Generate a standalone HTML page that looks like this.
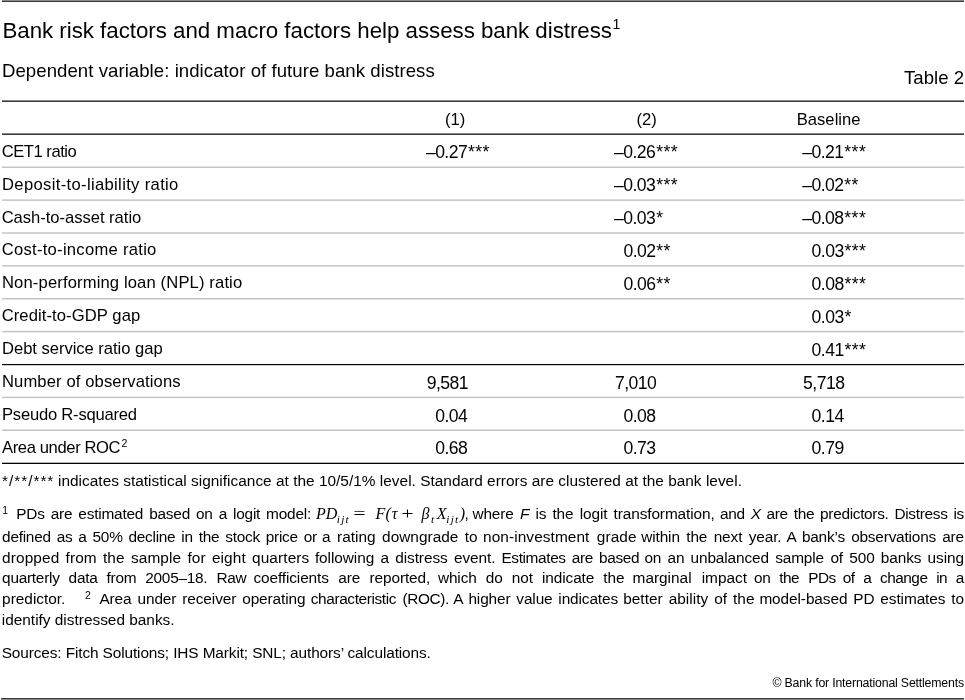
<!DOCTYPE html>
<html>
<head>
<meta charset="utf-8">
<title>Table 2</title>
<style>
html,body{margin:0;padding:0;background:#fff;}
body{filter:grayscale(1);width:965px;height:700px;position:relative;overflow:hidden;font-family:"Liberation Sans",sans-serif;color:#000;}
.t{position:absolute;white-space:nowrap;line-height:24px;}
.ln{position:absolute;height:1px;}
</style>
</head>
<body>
<svg width="965" height="700" viewBox="0 0 965 700" style="position:absolute;left:0;top:0"><rect x="2" y="0.40" width="962" height="1.60" fill="#3a3a3a"/><rect x="2" y="100.40" width="962" height="1.60" fill="#3a3a3a"/><rect x="2" y="133.40" width="962" height="1.60" fill="#3a3a3a"/><rect x="2" y="166.52" width="962" height="1.50" fill="#c4c4c4"/><rect x="2" y="199.39" width="962" height="1.50" fill="#c4c4c4"/><rect x="2" y="232.26" width="962" height="1.50" fill="#c4c4c4"/><rect x="2" y="265.13" width="962" height="1.50" fill="#c4c4c4"/><rect x="2" y="298.00" width="962" height="1.50" fill="#c4c4c4"/><rect x="2" y="330.87" width="962" height="1.50" fill="#c4c4c4"/><rect x="2" y="396.61" width="962" height="1.50" fill="#c4c4c4"/><rect x="2" y="429.48" width="962" height="1.50" fill="#c4c4c4"/><rect x="2" y="364.00" width="962" height="1.18" fill="#000"/><rect x="2" y="462.72" width="962" height="1.28" fill="#000"/><rect x="1" y="698.00" width="963" height="1.60" fill="#3a3a3a"/></svg>
<div id="title" class="t" style="left:2.46px;top:19.17px;font-size:22.3px;letter-spacing:-0.023px;">Bank risk factors and macro factors help assess bank distress<sup style="font-size:14.2px;position:relative;top:-9.6px;vertical-align:baseline;line-height:0;letter-spacing:0;margin-left:0.6px">1</sup></div>
<div id="sub" class="t" style="left:1.98px;top:59.36px;font-size:18.6px;letter-spacing:0.054px;">Dependent variable: indicator of future bank distress</div>
<div id="tnum" class="t" style="left:903.98px;top:65.56px;font-size:18.6px;letter-spacing:0.033px;">Table 2</div>
<div id="h1" class="t" style="left:445.0px;top:107.85px;font-size:16.6px;letter-spacing:0px;">(1)</div>
<div id="h2" class="t" style="left:636.6px;top:107.85px;font-size:16.6px;letter-spacing:0px;">(2)</div>
<div id="h3" class="t" style="left:796.68px;top:107.85px;font-size:16.6px;letter-spacing:0.033px;">Baseline</div>
<div id="l0" class="t" style="left:1.68px;top:139.80px;font-size:16.6px;letter-spacing:-0.473px;">CET1 ratio</div>
<div id="v0_0" class="t" style="left:425.9px;top:140.35px;font-size:17.6px;letter-spacing:-0.55px;">–0.27<span style="letter-spacing:0.45px;margin-left:0.8500000000000001px">***</span></div>
<div id="v0_1" class="t" style="left:614.0px;top:140.35px;font-size:17.6px;letter-spacing:-0.55px;">–0.26<span style="letter-spacing:0.45px;margin-left:0.8500000000000001px">***</span></div>
<div id="v0_2" class="t" style="left:802.2px;top:140.35px;font-size:17.6px;letter-spacing:-0.55px;">–0.21<span style="letter-spacing:0.45px;margin-left:0.8500000000000001px">***</span></div>
<div id="l1" class="t" style="left:2.0px;top:172.67px;font-size:16.6px;letter-spacing:0.34px;">Deposit-to-liability ratio</div>
<div id="v1_1" class="t" style="left:614.0px;top:173.25px;font-size:17.6px;letter-spacing:-0.55px;">–0.03<span style="letter-spacing:0.45px;margin-left:0.8500000000000001px">***</span></div>
<div id="v1_2" class="t" style="left:802.2px;top:173.25px;font-size:17.6px;letter-spacing:-0.55px;">–0.02<span style="letter-spacing:0.45px;margin-left:0.8500000000000001px">**</span></div>
<div id="l2" class="t" style="left:1.68px;top:205.54px;font-size:16.6px;letter-spacing:-0.032px;">Cash-to-asset ratio</div>
<div id="v2_1" class="t" style="left:614.0px;top:206.15px;font-size:17.6px;letter-spacing:-0.55px;">–0.03<span style="letter-spacing:0.45px;margin-left:0.8500000000000001px">*</span></div>
<div id="v2_2" class="t" style="left:802.2px;top:206.15px;font-size:17.6px;letter-spacing:-0.55px;">–0.08<span style="letter-spacing:0.45px;margin-left:0.8500000000000001px">***</span></div>
<div id="l3" class="t" style="left:1.68px;top:238.41px;font-size:16.6px;letter-spacing:0.277px;">Cost-to-income ratio</div>
<div id="v3_1" class="t" style="left:623.4px;top:239.05px;font-size:17.6px;letter-spacing:-0.55px;">0.02<span style="letter-spacing:0.45px;margin-left:0.8500000000000001px">**</span></div>
<div id="v3_2" class="t" style="left:811.6px;top:239.05px;font-size:17.6px;letter-spacing:-0.55px;">0.03<span style="letter-spacing:0.45px;margin-left:0.8500000000000001px">***</span></div>
<div id="l4" class="t" style="left:2.0px;top:271.28px;font-size:16.6px;letter-spacing:0.136px;">Non-performing loan (NPL) ratio</div>
<div id="v4_1" class="t" style="left:623.4px;top:271.95px;font-size:17.6px;letter-spacing:-0.55px;">0.06<span style="letter-spacing:0.45px;margin-left:0.8500000000000001px">**</span></div>
<div id="v4_2" class="t" style="left:811.6px;top:271.95px;font-size:17.6px;letter-spacing:-0.55px;">0.08<span style="letter-spacing:0.45px;margin-left:0.8500000000000001px">***</span></div>
<div id="l5" class="t" style="left:1.68px;top:304.15px;font-size:16.6px;letter-spacing:0.09px;">Credit-to-GDP gap</div>
<div id="v5_2" class="t" style="left:811.6px;top:304.85px;font-size:17.6px;letter-spacing:-0.55px;">0.03<span style="letter-spacing:0.45px;margin-left:0.8500000000000001px">*</span></div>
<div id="l6" class="t" style="left:2.0px;top:337.02px;font-size:16.6px;letter-spacing:-0.036px;">Debt service ratio gap</div>
<div id="v6_2" class="t" style="left:811.6px;top:337.75px;font-size:17.6px;letter-spacing:-0.55px;">0.41<span style="letter-spacing:0.45px;margin-left:0.8500000000000001px">***</span></div>
<div id="l7" class="t" style="left:2.0px;top:369.89px;font-size:16.6px;letter-spacing:0.112px;">Number of observations</div>
<div id="v7_0" class="t" style="left:426.8px;top:370.65px;font-size:17.6px;letter-spacing:-0.55px;">9,581</div>
<div id="v7_1" class="t" style="left:614.9px;top:370.65px;font-size:17.6px;letter-spacing:-0.55px;">7,010</div>
<div id="v7_2" class="t" style="left:803.1px;top:370.65px;font-size:17.6px;letter-spacing:-0.55px;">5,718</div>
<div id="l8" class="t" style="left:2.0px;top:402.76px;font-size:16.6px;letter-spacing:-0.219px;">Pseudo R-squared</div>
<div id="v8_0" class="t" style="left:435.3px;top:403.55px;font-size:17.6px;letter-spacing:-0.55px;">0.04</div>
<div id="v8_1" class="t" style="left:623.4px;top:403.55px;font-size:17.6px;letter-spacing:-0.55px;">0.08</div>
<div id="v8_2" class="t" style="left:811.6px;top:403.55px;font-size:17.6px;letter-spacing:-0.55px;">0.14</div>
<div id="l9" class="t" style="left:2.0px;top:435.63px;font-size:16.6px;letter-spacing:-0.383px;">Area under ROC<sup style="font-size:10.5px;position:relative;top:-5.8px;vertical-align:baseline;line-height:0;letter-spacing:0;margin-left:1.2px">2</sup></div>
<div id="v9_0" class="t" style="left:435.3px;top:436.45px;font-size:17.6px;letter-spacing:-0.55px;">0.68</div>
<div id="v9_1" class="t" style="left:623.4px;top:436.45px;font-size:17.6px;letter-spacing:-0.55px;">0.73</div>
<div id="v9_2" class="t" style="left:811.6px;top:436.45px;font-size:17.6px;letter-spacing:-0.55px;">0.79</div>
<div id="siga" class="t" style="left:1.98px;top:469.16px;font-size:15.4px;letter-spacing:0.984px;">*/**/***</div>
<div id="sigb" class="t" style="left:58.0px;top:469.16px;font-size:15.4px;letter-spacing:0.02px;">indicates statistical significance at the 10/5/1% level. Standard errors are clustered at the bank level.</div>
<div id="f0s" class="t" style="left:2.3px;top:502.26px;font-size:15.4px;letter-spacing:0px;"><sup style="font-size:10.4px;position:relative;top:-5.4px;vertical-align:baseline;line-height:0;letter-spacing:0;">1</sup></div>
<div id="f0a" class="t" style="left:16.3px;top:502.26px;font-size:15.4px;letter-spacing:-0.203px;width:294.8px;white-space:normal;text-align:justify;text-align-last:justify;">PDs are estimated based on a logit model:</div>
<div id="f0k" class="t" style="left:464.4px;top:502.26px;font-size:15.4px;letter-spacing:0px;">,</div>
<div id="f0c" class="t" style="left:472.4px;top:502.26px;font-size:15.4px;letter-spacing:-0.097px;width:242.3px;white-space:normal;text-align:justify;text-align-last:justify;">where <i>F</i> is the logit transformation,</div>
<div id="f0d" class="t" style="left:720.1px;top:502.26px;font-size:15.4px;letter-spacing:-0.308px;width:243.8px;white-space:normal;text-align:justify;text-align-last:justify;">and <i>X</i> are the predictors. Distress is</div>
<div id="f1a" class="t" style="left:2.1px;top:524.86px;font-size:15.4px;letter-spacing:-0.268px;width:314.8px;white-space:normal;text-align:justify;text-align-last:justify;">defined as a 50% decline in the stock price or</div>
<div id="f1b" class="t" style="left:322.0px;top:524.86px;font-size:15.4px;letter-spacing:0.01px;width:155.7px;white-space:normal;text-align:justify;text-align-last:justify;">a rating downgrade to</div>
<div id="f1c" class="t" style="left:483.1px;top:524.86px;font-size:15.4px;letter-spacing:0.081px;width:153.5px;white-space:normal;text-align:justify;text-align-last:justify;">non-investment grade</div>
<div id="f1d" class="t" style="left:641.2px;top:524.86px;font-size:15.4px;letter-spacing:-0.111px;width:140.3px;white-space:normal;text-align:justify;text-align-last:justify;">within the next year.</div>
<div id="f1e" class="t" style="left:786.4px;top:524.86px;font-size:15.4px;letter-spacing:-0.203px;width:177.5px;white-space:normal;text-align:justify;text-align-last:justify;">A bank’s observations are</div>
<div id="f2a" class="t" style="left:2.1px;top:545.56px;font-size:15.4px;letter-spacing:0.113px;width:307.3px;white-space:normal;text-align:justify;text-align-last:justify;">dropped from the sample for eight quarters</div>
<div id="f2b" class="t" style="left:314.9px;top:545.56px;font-size:15.4px;letter-spacing:-0.061px;width:180.6px;white-space:normal;text-align:justify;text-align-last:justify;">following a distress event.</div>
<div id="f2c" class="t" style="left:501.4px;top:545.56px;font-size:15.4px;letter-spacing:-0.363px;width:137.8px;white-space:normal;text-align:justify;text-align-last:justify;">Estimates are based</div>
<div id="f2d" class="t" style="left:644.4px;top:545.56px;font-size:15.4px;letter-spacing:-0.112px;width:179.7px;white-space:normal;text-align:justify;text-align-last:justify;">on an unbalanced sample</div>
<div id="f2e" class="t" style="left:830.4px;top:545.56px;font-size:15.4px;letter-spacing:-0.095px;width:133.5px;white-space:normal;text-align:justify;text-align-last:justify;">of 500 banks using</div>
<div id="f3a" class="t" style="left:2.1px;top:566.26px;font-size:15.4px;letter-spacing:-0.263px;width:244.3px;white-space:normal;text-align:justify;text-align-last:justify;">quarterly data from 2005–18. Raw</div>
<div id="f3b" class="t" style="left:253.5px;top:566.26px;font-size:15.4px;letter-spacing:-0.12px;width:176.6px;white-space:normal;text-align:justify;text-align-last:justify;">coefficients are reported,</div>
<div id="f3c" class="t" style="left:437.9px;top:566.26px;font-size:15.4px;letter-spacing:-0.117px;width:186.5px;white-space:normal;text-align:justify;text-align-last:justify;">which do not indicate the</div>
<div id="f3d" class="t" style="left:632.6px;top:566.26px;font-size:15.4px;letter-spacing:-0.009px;width:114.4px;white-space:normal;text-align:justify;text-align-last:justify;">marginal impact</div>
<div id="f3e" class="t" style="left:754.1px;top:566.26px;font-size:15.4px;letter-spacing:-0.506px;width:81.7px;white-space:normal;text-align:justify;text-align-last:justify;">on the PDs</div>
<div id="f3f" class="t" style="left:842.8px;top:566.26px;font-size:15.4px;letter-spacing:-0.527px;width:121.1px;white-space:normal;text-align:justify;text-align-last:justify;">of a change in a</div>
<div id="f4a" class="t" style="left:2.1px;top:586.96px;font-size:15.4px;letter-spacing:0px;">predictor.</div>
<div id="f4s" class="t" style="left:85.0px;top:586.96px;font-size:15.4px;letter-spacing:0px;"><sup style="font-size:10.4px;position:relative;top:-5.4px;vertical-align:baseline;line-height:0;letter-spacing:0;">2</sup></div>
<div id="f4b" class="t" style="left:99.4px;top:586.96px;font-size:15.4px;letter-spacing:-0.087px;width:206.2px;white-space:normal;text-align:justify;text-align-last:justify;">Area under receiver operating</div>
<div id="f4c" class="t" style="left:310.7px;top:586.96px;font-size:15.4px;letter-spacing:-0.375px;width:138.3px;white-space:normal;text-align:justify;text-align-last:justify;">characteristic (ROC).</div>
<div id="f4d" class="t" style="left:453.3px;top:586.96px;font-size:15.4px;letter-spacing:-0.124px;width:164.7px;white-space:normal;text-align:justify;text-align-last:justify;">A higher value indicates</div>
<div id="f4e" class="t" style="left:623.2px;top:586.96px;font-size:15.4px;letter-spacing:0.021px;width:131.3px;white-space:normal;text-align:justify;text-align-last:justify;">better ability of the</div>
<div id="f4f" class="t" style="left:759.4px;top:586.96px;font-size:15.4px;letter-spacing:-0.092px;width:204.5px;white-space:normal;text-align:justify;text-align-last:justify;">model-based PD estimates to</div>
<div id="f5" class="t" style="left:1.78px;top:607.96px;font-size:15.4px;letter-spacing:0px;">identify distressed banks.</div>
<div id="m0" class="t" style="left:316.0px;top:502.06px;font-size:16.0px;letter-spacing:0px;font-family:'Liberation Serif',serif;font-style:italic;">PD</div>
<div id="m1" class="t" style="left:336.8px;top:507.08px;font-size:11.3px;letter-spacing:1.2px;font-family:'Liberation Serif',serif;font-style:italic;">ijt</div>
<div id="m2" class="t" style="left:352.3px;top:502.06px;font-size:16.0px;letter-spacing:0px;font-family:'Liberation Serif',serif;font-style:italic;transform:scaleX(1.35);transform-origin:0 50%;">=</div>
<div id="m3" class="t" style="left:375.5px;top:502.06px;font-size:16.0px;letter-spacing:0px;font-family:'Liberation Serif',serif;font-style:italic;">F</div>
<div id="m4" class="t" style="left:385.6px;top:502.06px;font-size:16.0px;letter-spacing:0px;font-family:'Liberation Serif',serif;font-style:italic;">(</div>
<div id="m5" class="t" style="left:391.7px;top:502.06px;font-size:16.0px;letter-spacing:0px;font-family:'Liberation Serif',serif;font-style:italic;">τ</div>
<div id="m6" class="t" style="left:399.8px;top:502.06px;font-size:16.0px;letter-spacing:0px;font-family:'Liberation Serif',serif;font-style:italic;transform:scaleX(1.35);transform-origin:0 50%;">+</div>
<div id="m7" class="t" style="left:421.6px;top:502.06px;font-size:16.0px;letter-spacing:0px;font-family:'Liberation Serif',serif;font-style:italic;">β</div>
<div id="m8" class="t" style="left:431.0px;top:507.08px;font-size:11.3px;letter-spacing:1.2px;font-family:'Liberation Serif',serif;font-style:italic;">t</div>
<div id="m9" class="t" style="left:436.8px;top:502.06px;font-size:16.0px;letter-spacing:0px;font-family:'Liberation Serif',serif;font-style:italic;">X</div>
<div id="m10" class="t" style="left:446.3px;top:507.08px;font-size:11.3px;letter-spacing:1.2px;font-family:'Liberation Serif',serif;font-style:italic;">ijt</div>
<div id="m11" class="t" style="left:459.7px;top:502.06px;font-size:16.0px;letter-spacing:0px;font-family:'Liberation Serif',serif;font-style:italic;">)</div>
<div id="src" class="t" style="left:1.68px;top:641.36px;font-size:15.4px;letter-spacing:-0.115px;">Sources: Fitch Solutions; IHS Markit; SNL; authors’ calculations.</div>
<div id="copy" class="t" style="left:772.48px;top:670.54px;font-size:12.3px;letter-spacing:-0.176px;">© Bank for International Settlements</div>
</body>
</html>
